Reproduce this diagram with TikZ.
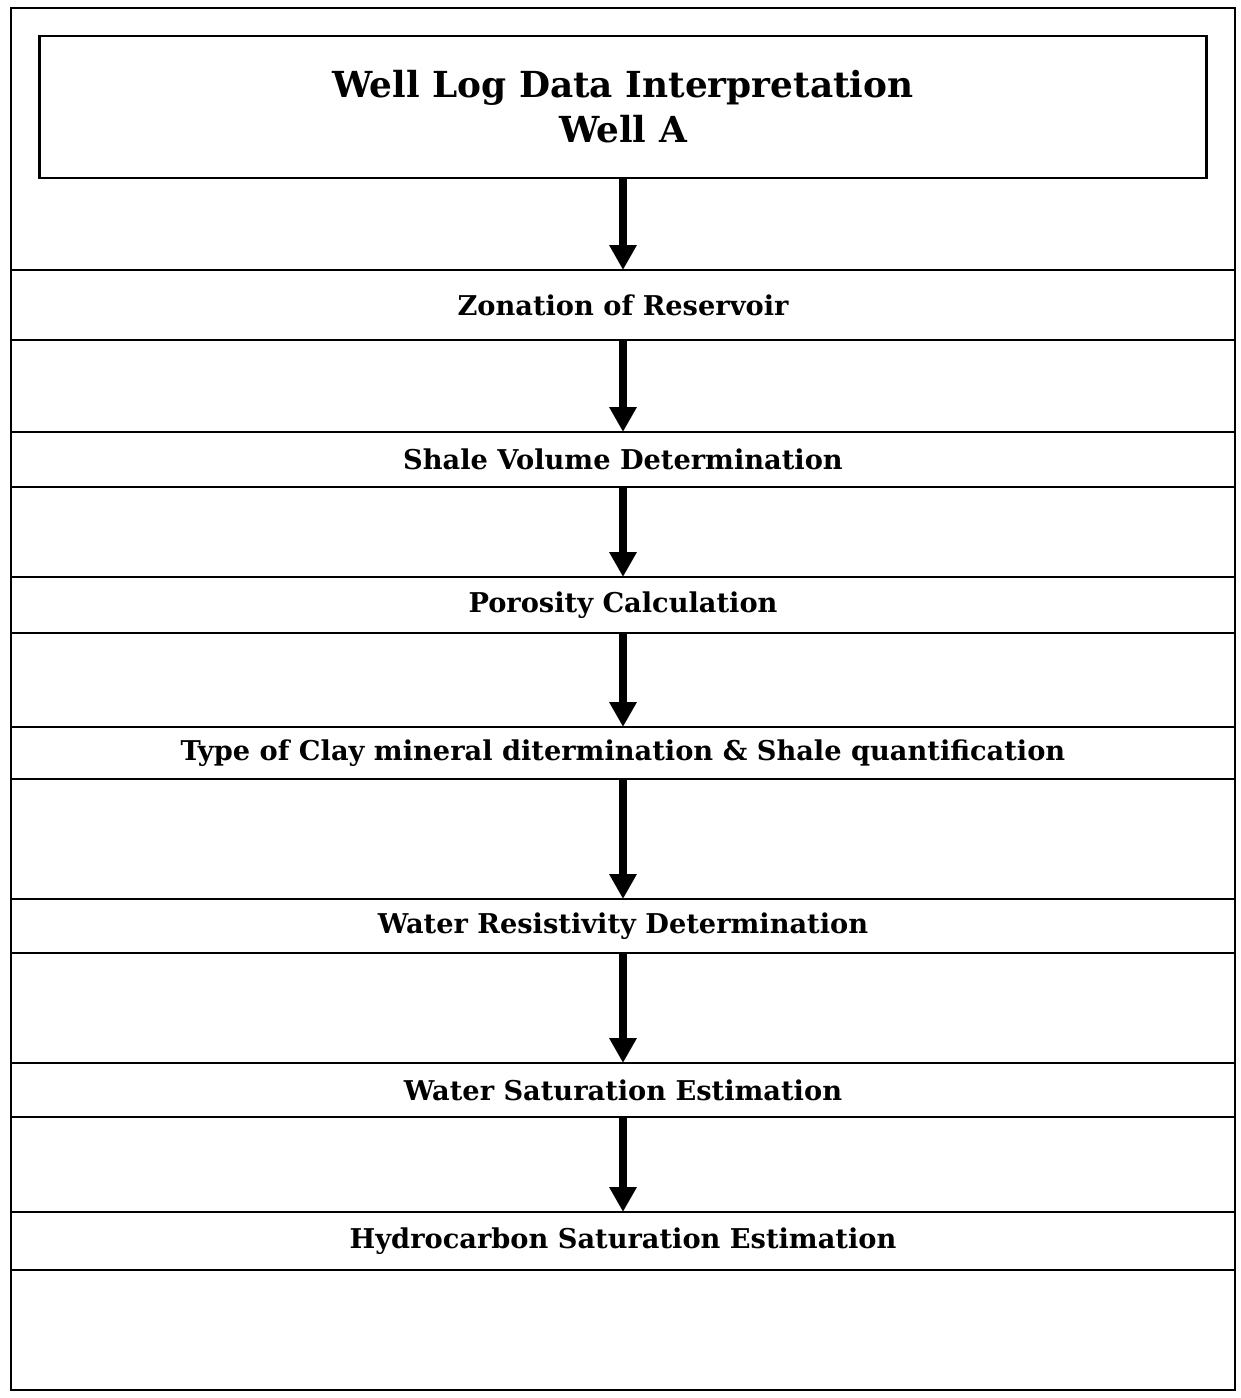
\documentclass[tikz,border=0pt]{standalone}
\usepackage{fontspec}
\setmainfont{DejaVu Serif}
\usepackage{tikz}
\usetikzlibrary{arrows.meta,positioning}

\begin{document}
\begin{tikzpicture}[>={Triangle[width=0.52cm,length=0.5cm]},
    band/.style={draw,line width=1.6pt,minimum width=24.48cm,inner sep=0pt,outer sep=0pt,
      font=\bfseries\fontsize{15.5}{18}\selectfont},
    flow/.style={->,line width=4.8pt}]
    \useasboundingbox (0,0) rectangle (24.82,-27.96);
    % outer frame
    \draw[line width=1.4pt] (0.22,-0.16) rectangle (24.70,-27.80);
    \node[draw,line width=1.6pt,outer sep=0pt,minimum width=23.34cm,minimum height=2.84cm,align=center,
      font=\bfseries\fontsize{20.4}{25.6}\selectfont] (title) at (12.46,-2.14)
      {Well Log Data Interpretation\\Well A};
    \node[band,minimum height=1.40cm,below=1.84cm of title] (zonation) {Zonation of Reservoir};
    \node[band,minimum height=1.10cm,below=1.84cm of zonation] (shale) {Shale Volume Determination};
    \node[band,minimum height=1.12cm,below=1.80cm of shale] (porosity) {Porosity Calculation};
    \node[band,minimum height=1.04cm,below=1.88cm of porosity] (clay)
      {Type of Clay mineral ditermination \& Shale quantification};
    \node[band,minimum height=1.08cm,below=2.40cm of clay] (rw) {Water Resistivity Determination};
    \node[band,minimum height=1.08cm,below=2.20cm of rw] (sw) {Water Saturation Estimation};
    \node[band,minimum height=1.16cm,below=1.90cm of sw] (shc) {Hydrocarbon Saturation Estimation};
    \draw[flow] (title) -- (zonation);
    \draw[flow] (zonation) -- (shale);
    \draw[flow] (shale) -- (porosity);
    \draw[flow] (porosity) -- (clay);
    \draw[flow] (clay) -- (rw);
    \draw[flow] (rw) -- (sw);
    \draw[flow] (sw) -- (shc);
\end{tikzpicture}
\end{document}
